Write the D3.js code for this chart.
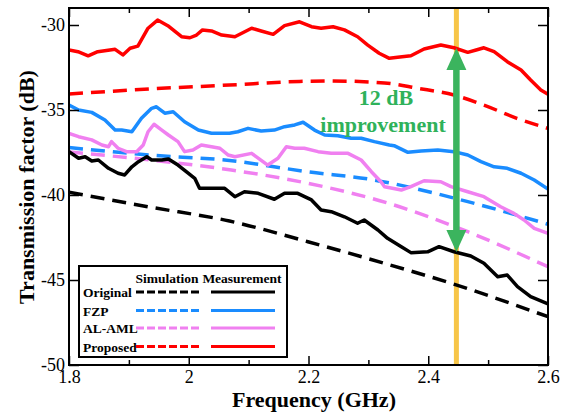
<!DOCTYPE html>
<html><head><meta charset="utf-8">
<script src="https://cdn.jsdelivr.net/npm/d3@7"></script>
<style>html,body{margin:0;padding:0;background:#fff;}svg{display:block;}</style>
</head><body>
<svg id="chart" width="567" height="414"></svg>
<script>
// ---- data ----
const xTicks = [1.8, 2, 2.2, 2.4, 2.6];
const xMinorTicks = [1.9, 2.1, 2.3, 2.5];
const yTicks = [-50, -45, -40, -35, -30];
const seriesNames = ["Original", "FZP", "AL-AML", "Proposed"];
const seriesColors = ["#000000", "#1a8cff", "#f080f0", "#ff0000"];

const originalMeas = [[1.800,-37.45],[1.816,-37.84],[1.827,-37.75],[1.838,-38.00],[1.849,-37.94],[1.866,-38.43],[1.882,-38.72],[1.893,-38.82],[1.905,-38.34],[1.916,-38.04],[1.930,-37.75],[1.938,-37.94],[1.955,-37.94],[1.966,-37.88],[1.982,-38.24],[1.999,-38.72],[2.010,-39.02],[2.018,-39.61],[2.046,-39.61],[2.060,-39.61],[2.077,-40.10],[2.093,-39.81],[2.116,-39.90],[2.143,-40.25],[2.160,-39.90],[2.182,-39.90],[2.205,-40.29],[2.221,-40.88],[2.238,-40.98],[2.260,-41.28],[2.282,-41.66],[2.293,-41.47],[2.316,-42.06],[2.332,-42.55],[2.355,-43.04],[2.371,-43.39],[2.399,-43.34],[2.418,-43.04],[2.443,-43.34],[2.471,-43.59],[2.493,-44.02],[2.516,-44.81],[2.532,-44.71],[2.549,-45.39],[2.571,-45.98],[2.600,-46.40]];
const originalSim = [[1.800,-39.84],[1.935,-40.71],[2.068,-41.53],[2.199,-42.75],[2.327,-44.02],[2.438,-45.19],[2.600,-47.16]];

const fzpMeas = [[1.800,-34.71],[1.816,-35.00],[1.838,-35.14],[1.860,-35.59],[1.877,-36.18],[1.888,-36.18],[1.905,-36.28],[1.921,-35.49],[1.938,-34.90],[1.946,-34.81],[1.960,-35.19],[1.974,-35.10],[1.993,-35.69],[2.016,-36.18],[2.038,-36.37],[2.055,-36.37],[2.068,-36.37],[2.082,-36.28],[2.099,-36.08],[2.121,-36.24],[2.143,-36.18],[2.160,-35.98],[2.177,-35.88],[2.191,-35.72],[2.210,-36.18],[2.227,-36.47],[2.249,-36.51],[2.271,-36.66],[2.288,-36.66],[2.310,-36.86],[2.335,-37.06],[2.343,-37.10],[2.366,-37.49],[2.388,-37.41],[2.416,-37.35],[2.443,-37.45],[2.466,-37.65],[2.488,-38.04],[2.510,-38.34],[2.532,-38.43],[2.555,-38.72],[2.577,-39.12],[2.600,-39.65]];
const fzpSim = [[1.800,-37.21],[1.935,-37.65],[2.068,-37.97],[2.198,-38.63],[2.310,-39.12],[2.338,-39.31],[2.466,-40.39],[2.600,-41.72]];

const alamlMeas = [[1.800,-36.37],[1.816,-36.57],[1.838,-36.76],[1.855,-37.06],[1.866,-37.16],[1.871,-36.86],[1.882,-37.25],[1.896,-37.45],[1.913,-37.45],[1.924,-37.06],[1.932,-36.28],[1.942,-35.84],[1.955,-36.18],[1.966,-36.47],[1.982,-36.86],[1.993,-37.45],[2.007,-37.35],[2.021,-37.06],[2.038,-37.16],[2.052,-37.25],[2.066,-37.65],[2.077,-37.75],[2.105,-37.55],[2.132,-38.24],[2.149,-37.84],[2.163,-37.16],[2.177,-37.25],[2.193,-37.25],[2.216,-37.45],[2.238,-37.55],[2.266,-37.55],[2.288,-37.94],[2.305,-38.63],[2.321,-39.22],[2.327,-39.51],[2.355,-39.71],[2.371,-39.51],[2.393,-39.16],[2.421,-39.22],[2.438,-39.51],[2.466,-39.81],[2.493,-40.10],[2.521,-40.69],[2.543,-41.08],[2.560,-41.47],[2.577,-41.96],[2.600,-42.25]];
const alamlSim = [[1.800,-37.47],[1.935,-37.94],[2.071,-38.53],[2.199,-39.31],[2.332,-40.47],[2.466,-42.16],[2.600,-44.22]];

const proposedMeas = [[1.800,-31.47],[1.815,-31.57],[1.832,-31.81],[1.848,-31.57],[1.877,-31.43],[1.890,-31.76],[1.902,-31.37],[1.915,-31.24],[1.932,-30.19],[1.948,-29.71],[1.965,-30.04],[1.988,-30.69],[2.002,-30.75],[2.013,-30.59],[2.023,-30.29],[2.038,-30.35],[2.055,-30.59],[2.068,-30.65],[2.077,-30.69],[2.105,-30.19],[2.121,-30.35],[2.141,-30.55],[2.160,-30.04],[2.185,-29.81],[2.205,-30.10],[2.221,-30.19],[2.241,-30.10],[2.260,-30.29],[2.282,-30.69],[2.299,-31.18],[2.318,-31.66],[2.335,-31.96],[2.349,-31.90],[2.371,-31.81],[2.393,-31.41],[2.421,-31.18],[2.443,-31.34],[2.466,-31.61],[2.480,-31.47],[2.493,-31.34],[2.510,-31.57],[2.532,-32.16],[2.555,-32.65],[2.571,-33.24],[2.588,-33.82],[2.600,-34.08]];
const proposedSim = [[1.800,-34.06],[1.935,-33.76],[2.068,-33.53],[2.185,-33.32],[2.235,-33.29],[2.327,-33.41],[2.382,-33.72],[2.443,-34.12],[2.493,-34.71],[2.548,-35.49],[2.600,-36.08]];

const markerFreq = 2.447;
const arrowFrom = -31.35;
const arrowTo = -43.35;
const annotationLines = ["12 dB", "improvement"];

// ---- layout ----
const svg = d3.select("#chart");
const L = 69, R = 548, T = 8, B = 365;
const x = d3.scaleLinear().domain([1.8, 2.6]).range([L, R]);
const y = d3.scaleLinear().domain([-50, -29]).range([B, T]);
const serif = "'Liberation Serif','Times New Roman',serif";

// orange marker line
svg.append("line").attr("x1", x(markerFreq)).attr("x2", x(markerFreq))
  .attr("y1", T).attr("y2", B).attr("stroke", "#f7c548").attr("stroke-width", 5);

const clip = svg.append("clipPath").attr("id", "pc").append("rect")
  .attr("x", L).attr("y", T).attr("width", R - L).attr("height", B - T);

const gLines = svg.append("g").attr("clip-path", "url(#pc)");
const measLine = d3.line().x(d => x(d[0])).y(d => y(d[1])).curve(d3.curveLinear);
const simLine = d3.line().x(d => x(d[0])).y(d => y(d[1])).curve(d3.curveMonotoneX);

const sims = [originalSim, fzpSim, alamlSim, proposedSim];
const meas = [originalMeas, fzpMeas, alamlMeas, proposedMeas];
sims.forEach((s, i) => {
  gLines.append("path").datum(s).attr("d", simLine).attr("fill", "none")
    .attr("stroke", seriesColors[i]).attr("stroke-width", 3.5)
    .attr("stroke-dasharray", "14,8");
});
meas.forEach((s, i) => {
  gLines.append("path").datum(s).attr("d", measLine).attr("fill", "none")
    .attr("stroke", seriesColors[i]).attr("stroke-width", 3.5)
    .attr("stroke-linejoin", "round");
});

// green double arrow
const green = "#3bb45e";
const ax = x(markerFreq);
const yTop = y(arrowFrom), yBot = y(arrowTo);
const headH = 22, headW = 10;
svg.append("line").attr("x1", ax).attr("x2", ax).attr("y1", yTop + headH - 2).attr("y2", yBot - headH + 2)
  .attr("stroke", green).attr("stroke-width", 6.5);
svg.append("path").attr("d", `M${ax},${yTop} L${ax - headW},${yTop + headH} L${ax + headW},${yTop + headH} Z`).attr("fill", green);
svg.append("path").attr("d", `M${ax},${yBot} L${ax - headW},${yBot - headH} L${ax + headW},${yBot - headH} Z`).attr("fill", green);

svg.append("text").attr("x", 386).attr("y", 105).attr("text-anchor", "middle")
  .attr("font-family", serif).attr("font-weight", "bold").attr("font-size", 22)
  .attr("fill", "#2fb25a").text(annotationLines[0]);
svg.append("text").attr("x", 383).attr("y", 132).attr("text-anchor", "middle")
  .attr("font-family", serif).attr("font-weight", "bold").attr("font-size", 22)
  .attr("fill", "#2fb25a").text(annotationLines[1]);

// axes
function styleAxis(g) {
  g.select(".domain").remove();
  g.selectAll("line").attr("stroke", "#000").attr("stroke-width", 1.5);
  g.selectAll("text").attr("font-family", serif).attr("font-size", 18).attr("fill", "#000");
}
svg.append("g").attr("transform", `translate(0,${B})`)
  .call(d3.axisBottom(x).tickValues(xTicks).tickSize(-9).tickPadding(5).tickFormat(d => String(d))).call(styleAxis);
svg.append("g").attr("transform", `translate(0,${B})`)
  .call(d3.axisBottom(x).tickValues(xMinorTicks).tickSize(-5).tickFormat("")).call(styleAxis);
svg.append("g").attr("transform", `translate(0,${T})`)
  .call(d3.axisTop(x).tickValues(xTicks).tickSize(-9).tickFormat("")).call(styleAxis);
svg.append("g").attr("transform", `translate(0,${T})`)
  .call(d3.axisTop(x).tickValues(xMinorTicks).tickSize(-5).tickFormat("")).call(styleAxis);
svg.append("g").attr("transform", `translate(${L},0)`)
  .call(d3.axisLeft(y).tickValues(yTicks).tickSize(-10).tickPadding(4).tickFormat(d => String(d))).call(styleAxis);
svg.append("g").attr("transform", `translate(${R},0)`)
  .call(d3.axisRight(y).tickValues(yTicks).tickSize(-10).tickFormat("")).call(styleAxis);

svg.append("rect").attr("x", L).attr("y", T).attr("width", R - L).attr("height", B - T)
  .attr("fill", "none").attr("stroke", "#000").attr("stroke-width", 2);

// axis titles
svg.append("text").attr("x", 314).attr("y", 407).attr("text-anchor", "middle")
  .attr("font-family", serif).attr("font-weight", "bold").attr("font-size", 22)
  .text("Frequency (GHz)");
svg.append("text").attr("transform", `translate(34,187) rotate(-90)`).attr("text-anchor", "middle")
  .attr("font-family", serif).attr("font-weight", "bold").attr("font-size", 22)
  .text("Transmission factor (dB)");

// legend
const lg = svg.append("g");
lg.append("rect").attr("x", 79).attr("y", 266).attr("width", 208).attr("height", 91)
  .attr("fill", "#fff").attr("stroke", "#000").attr("stroke-width", 2);
lg.append("text").attr("x", 167).attr("y", 283).attr("text-anchor", "middle")
  .attr("font-family", serif).attr("font-weight", "bold").attr("font-size", 13.5).text("Simulation");
lg.append("text").attr("x", 242).attr("y", 283).attr("text-anchor", "middle")
  .attr("font-family", serif).attr("font-weight", "bold").attr("font-size", 13.5).text("Measurement");
const rowY = [292, 310.5, 328, 346.5];
seriesNames.forEach((n, i) => {
  lg.append("text").attr("x", 83).attr("y", rowY[i] + 5).attr("font-family", serif)
    .attr("font-weight", "bold").attr("font-size", 13.5).text(n);
  lg.append("line").attr("x1", 136).attr("x2", 201).attr("y1", rowY[i]).attr("y2", rowY[i])
    .attr("stroke", seriesColors[i]).attr("stroke-width", 3).attr("stroke-dasharray", "8,3");
  lg.append("line").attr("x1", 211).attr("x2", 275).attr("y1", rowY[i]).attr("y2", rowY[i])
    .attr("stroke", seriesColors[i]).attr("stroke-width", 3);
});
</script>
</body></html>
